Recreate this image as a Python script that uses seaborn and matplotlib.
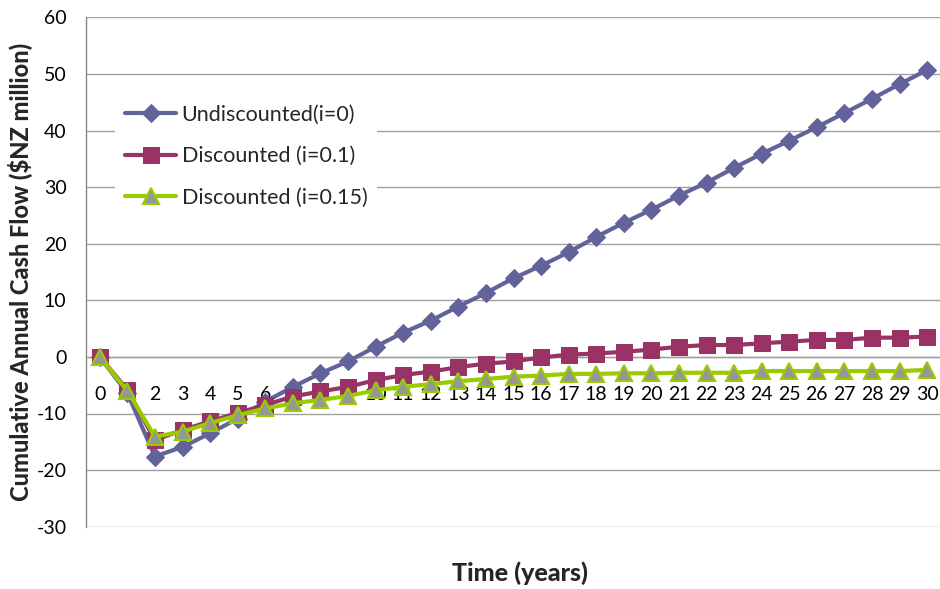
import matplotlib
matplotlib.use("Agg")
import matplotlib.pyplot as plt
import pandas as pd
import seaborn as sns

# Cumulative cash flow per year, $NZ million
years = list(range(31))
undiscounted = [0, -6.4, -17.6, -15.9, -13.5, -10.9, -7.9, -5.3, -2.9, -0.8,
                1.8, 4.3, 6.4, 8.9, 11.3, 13.9, 16.1, 18.5, 21.2, 23.7,
                26.0, 28.5, 30.8, 33.4, 35.9, 38.2, 40.6, 43.1, 45.6, 48.2, 50.7]
discounted_10 = [0, -5.8, -14.7, -12.9, -11.4, -9.9, -8.5, -7.0, -6.1, -5.3,
                 -4.1, -3.2, -2.6, -1.8, -1.2, -0.8, -0.1, 0.4, 0.6, 0.9,
                 1.3, 1.8, 2.1, 2.1, 2.4, 2.7, 3.0, 3.0, 3.4, 3.4, 3.6]
discounted_15 = [0, -6.0, -14.1, -13.2, -11.7, -10.3, -9.1, -8.2, -7.6, -6.9,
                 -5.9, -5.3, -4.8, -4.3, -3.9, -3.5, -3.3, -3.0, -3.0, -2.9,
                 -2.9, -2.8, -2.8, -2.8, -2.5, -2.5, -2.5, -2.5, -2.5, -2.5, -2.3]
series_labels = ["Undiscounted(i=0)", "Discounted (i=0.1)", "Discounted (i=0.15)"]
x_tick_labels = [str(y) for y in years]
y_ticks = list(range(-30, 61, 10))

df = pd.DataFrame({
    "year": years * 3,
    "value": undiscounted + discounted_10 + discounted_15,
    "series": [series_labels[0]] * 31 + [series_labels[1]] * 31 + [series_labels[2]] * 31,
})

sns.set_style("white")
plt.rcParams["font.family"] = ["Lato", "DejaVu Sans"]
plt.rcParams["axes.unicode_minus"] = False

fig = plt.figure(figsize=(9.4, 5.89), dpi=100)
ax = fig.add_axes([86 / 940, 62.3 / 589, 855 / 940, 509.4 / 589])

styles = {
    series_labels[0]: dict(color="#62639b", marker="D", markersize=9.5,
                           markerfacecolor="#62639b", markeredgecolor="#62639b"),
    series_labels[1]: dict(color="#993366", marker="s", markersize=11,
                           markerfacecolor="#993366", markeredgecolor="#993366"),
    series_labels[2]: dict(color="#99cc00", marker="^", markersize=11.5,
                           markerfacecolor="#969696", markeredgecolor="#99cc00",
                           markeredgewidth=1.5),
}
for i, name in enumerate(series_labels):
    sub = df[df["series"] == name]
    sns.lineplot(data=sub, x="year", y="value", ax=ax, label=name,
                 linewidth=3, zorder=3 + i, **styles[name])

ax.set_xlim(-0.5, 30.5)
ax.set_ylim(-30, 60)
ax.set_yticks(y_ticks)
ax.set_xticks(years)
ax.set_xticklabels(x_tick_labels)

ax.yaxis.grid(True, color="#a0a0a0", linewidth=1)
ax.xaxis.grid(False)
ax.set_axisbelow(True)

for side in ("top", "right"):
    ax.spines[side].set_visible(False)
ax.spines["left"].set_color("#868686")
ax.spines["left"].set_linewidth(1)
ax.spines["bottom"].set_position(("data", 0))
ax.spines["bottom"].set_color("#a0a0a0")
ax.spines["bottom"].set_linewidth(1)

ax.tick_params(axis="x", length=0, pad=21, labelsize=14, colors="black")
ax.tick_params(axis="y", length=0, pad=14, labelsize=14, colors="black")

ax.set_xlabel("Time (years)", fontsize=18, fontweight="black")
ax.set_ylabel("Cumulative Annual Cash Flow ($NZ million)", fontsize=17, fontweight="black")
ax.xaxis.set_label_coords((520.5 - 86) / 855, (28 - 62.3) / 509.4)
ax.yaxis.set_label_coords((33 - 86) / 855, 0.5)

leg = ax.legend(loc="upper left", bbox_to_anchor=(115 / 940, 1 - 95 / 589),
                bbox_transform=fig.transFigure, borderaxespad=0,
                frameon=True, facecolor="white", edgecolor="none", framealpha=1,
                fontsize=15.5, handlelength=2.4, handletextpad=0.25,
                labelspacing=1.0, borderpad=0.45)
leg.set_zorder(10)

fig.savefig("out.png", dpi=100)
